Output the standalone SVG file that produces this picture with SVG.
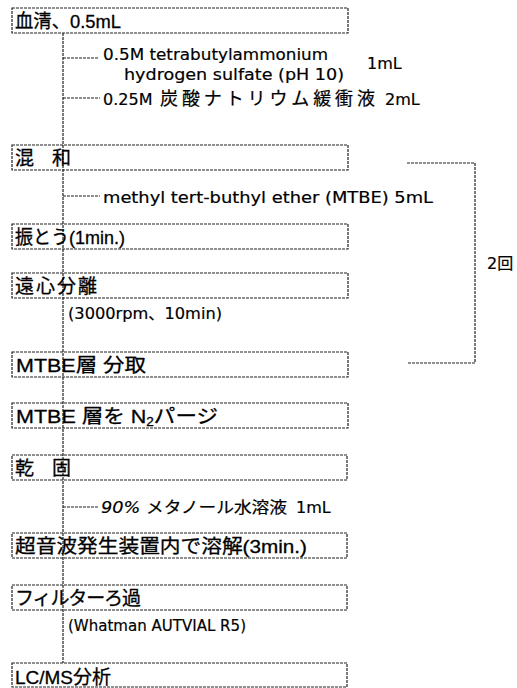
<svg xmlns="http://www.w3.org/2000/svg" width="517" height="688" viewBox="0 0 517 688">
<style>
.box{fill:none;stroke:#222;stroke-width:1.2;stroke-dasharray:3 1}
.ln{fill:none;stroke:#222;stroke-width:1.2;stroke-dasharray:3 1}
.lb{font-family:"Liberation Sans","Noto Sans CJK JP",sans-serif;font-size:19px;fill:#000;stroke:#000;stroke-width:0.3}
.sm{font-family:"DejaVu Sans","Noto Sans CJK JP",sans-serif;font-size:16px;fill:#000;stroke:#000;stroke-width:0.2}
</style>
<rect width="517" height="688" fill="#fff"/>
<g id="connectors">
<path class="ln" d="M63,33 V663"/>
<path class="ln" d="M63,58 H99"/>
<path class="ln" d="M63,98 H100"/>
<path class="ln" d="M63,196 H100"/>
<path class="ln" d="M63,507 H99"/>
<path class="ln" d="M407,163 H475 V363 H407"/>
</g>
<g id="n1"><rect class="box" x="12" y="8" width="336" height="25"/><text class="lb" x="15" y="28" textLength="106" lengthAdjust="spacingAndGlyphs">血清、0.5mL</text></g>
<g id="reagent1"><text class="sm" x="103" y="60" textLength="225" lengthAdjust="spacingAndGlyphs">0.5M tetrabutylammonium</text><text class="sm" x="124" y="80" textLength="220" lengthAdjust="spacingAndGlyphs">hydrogen sulfate (pH 10)</text><text class="sm" x="367" y="69">1mL</text></g>
<g id="reagent2"><text class="sm" x="103" y="105">0.25M <tspan x="160" font-size="18" textLength="215" lengthAdjust="spacing">炭酸ナトリウム緩衝液</tspan></text><text class="sm" x="385" y="105">2mL</text></g>
<g id="n2"><rect class="box" x="12" y="145" width="336" height="25"/><text class="lb" x="15" y="165" textLength="56" lengthAdjust="spacing">混 和</text></g>
<g id="reagent3"><text class="sm" x="103" y="203" textLength="330" lengthAdjust="spacingAndGlyphs">methyl tert-buthyl ether (MTBE) 5mL</text></g>
<g id="n3"><rect class="box" x="12" y="224" width="336" height="25"/><text class="lb" x="15" y="244" textLength="110" lengthAdjust="spacingAndGlyphs">振とう(1min.)</text></g>
<g id="n4"><rect class="box" x="12" y="273" width="336" height="25"/><text class="lb" x="15" y="293" textLength="82" lengthAdjust="spacing">遠心分離</text></g>
<g id="cond1"><text class="sm" x="68" y="319" textLength="154" lengthAdjust="spacingAndGlyphs">(3000rpm、10min)</text></g>
<g id="n5"><rect class="box" x="12" y="352" width="336" height="25"/><text class="lb" x="16" y="372" textLength="130" lengthAdjust="spacingAndGlyphs">MTBE層 分取</text></g>
<g id="n6"><rect class="box" x="12" y="403" width="336" height="25"/><text class="lb" x="16" y="423" textLength="202" lengthAdjust="spacingAndGlyphs">MTBE 層を N<tspan font-size="12" dy="3">2</tspan><tspan dy="-3">パージ</tspan></text></g>
<g id="n7"><rect class="box" x="12" y="455" width="335" height="25"/><text class="lb" x="15" y="475" textLength="56" lengthAdjust="spacing">乾 固</text></g>
<g id="reagent4"><text class="sm" x="101" y="513" textLength="186" lengthAdjust="spacingAndGlyphs"><tspan font-style="italic">90%</tspan> メタノール水溶液</text><text class="sm" x="296" y="513">1mL</text></g>
<g id="n8"><rect class="box" x="12" y="533" width="335" height="25"/><text class="lb" x="15" y="553" textLength="292" lengthAdjust="spacingAndGlyphs">超音波発生装置内で溶解(3min.)</text></g>
<g id="n9"><rect class="box" x="12" y="585" width="335" height="25"/><text class="lb" x="15" y="605" textLength="126" lengthAdjust="spacing">フィルターろ過</text></g>
<g id="cond2"><text class="sm" x="68" y="631" textLength="178" lengthAdjust="spacingAndGlyphs">(Whatman AUTVIAL R5)</text></g>
<g id="n10"><rect class="box" x="12" y="663" width="335" height="24"/><text class="lb" x="15" y="684" textLength="96" lengthAdjust="spacingAndGlyphs">LC/MS分析</text></g>
<g id="repeat"><text class="sm" x="487" y="269">2回</text></g>
</svg>
